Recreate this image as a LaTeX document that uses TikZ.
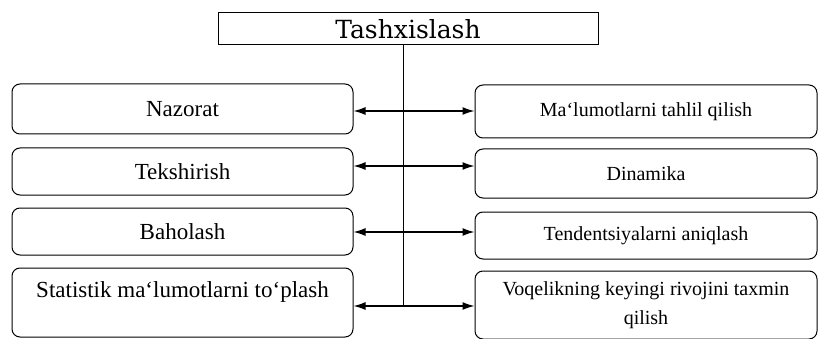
\documentclass[tikz,border=0pt]{standalone}
\usepackage{fontspec}
\setmainfont{Liberation Serif}
\newfontfamily\titlefont{DejaVu Serif}
\usetikzlibrary{arrows.meta}
\tikzset{
  box/.style={draw, line width=1pt, rectangle, rounded corners=8pt, inner sep=0pt, align=center},
  lbox/.style={box, minimum width=341pt, font=\fontsize{23}{27}\selectfont},
  rbox/.style={box, minimum width=342pt, font=\fontsize{20}{29}\selectfont},
  tbox/.style={draw, line width=1pt, rectangle, inner sep=0pt, minimum width=380pt, minimum height=32pt, font=\titlefont\fontsize{25}{30}\selectfont},
  conn/.style={line width=1.3pt},
  biarrow/.style={conn, {Latex[length=12pt,width=8pt]}-{Latex[length=12pt,width=8pt]}}
}
\begin{document}
\begin{tikzpicture}[x=1pt,y=-1pt]
\useasboundingbox (0,0) rectangle (818,339);
\node[tbox] (T) at (408,29) {Tashxislash};
% left boxes
\node[lbox, minimum height=50pt] (L1) at (182.5,109) {Nazorat};
\node[lbox, minimum height=47pt] (L2) at (182.5,171.5) {Tekshirish};
\node[lbox, minimum height=47pt] (L3) at (182.5,231.5) {Baholash};
\node[lbox, minimum height=69pt] (L4) at (182.5,302.5) {};
\node[font=\fontsize{23}{27}\selectfont] (L4t) at (182.5,292) {Statistik ma`lumotlarni to`plash};
% right boxes
\node[rbox, minimum height=53pt] (R1) at (646,111.5) {Ma`lumotlarni tahlil qilish};
\node[rbox, minimum height=49pt] (R2) at (646,173.5) {Dinamika};
\node[rbox, minimum height=47pt] (R3) at (646,235.5) {Tendentsiyalarni aniqlash};
\node[rbox, minimum height=68pt] (R4) at (646,305) {Voqelikning keyingi rivojini taxmin\\qilish};
% connectors
\coordinate (J1) at (403,111);
\coordinate (J2) at (403,166);
\coordinate (J3) at (403,232);
\coordinate (J4) at (403,306);
\draw[line width=1pt] (T.south -| J1) -- (J4);
\draw[biarrow] (L1.east |- J1) -- (R1.west |- J1);
\draw[biarrow] (L2.east |- J2) -- (R2.west |- J2);
\draw[biarrow] (L3.east |- J3) -- (R3.west |- J3);
\draw[biarrow] (L4.east |- J4) -- (R4.west |- J4);
\end{tikzpicture}
\end{document}
